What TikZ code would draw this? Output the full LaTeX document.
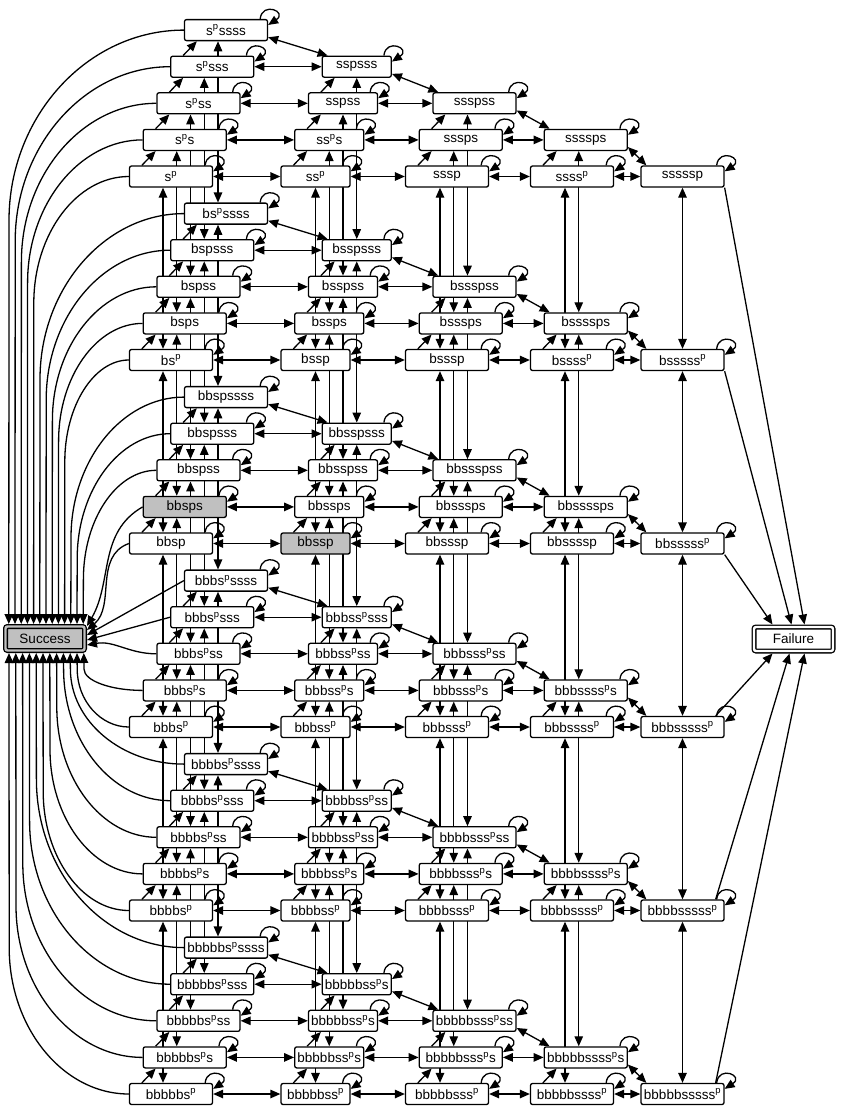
\documentclass[tikz,border=0pt]{standalone}
\usepackage{fontspec}
\setmainfont{Liberation Sans}
\usetikzlibrary{arrows.meta,backgrounds}
\definecolor{HitGray}{HTML}{C0C0C0}
\newcommand{\psup}{\textsuperscript{p}}

\begin{document}
\begin{tikzpicture}[
  x=1pt,y=1pt,
  state/.style={draw,rounded corners=2pt,fill=white,line width=1.3pt,minimum height=21pt,inner sep=0pt,font=\fontsize{13.5}{15}\selectfont},
  hit/.style={state,fill=HitGray},
  final/.style={state,double,double distance=2.4pt,outer sep=2.5pt,minimum width=79pt,minimum height=24pt},
  arrow/.style={-{Triangle[length=10pt,width=8.5pt]},line width=1.3pt},
  twoway/.style={{Triangle[length=10pt,width=8.5pt]}-{Triangle[length=10pt,width=8.5pt]},line width=1.3pt}
]
\useasboundingbox (0,0) rectangle (844,-1109);
% states: number of b / s before p / s after p
\foreach \nb/\ns/\nt/\sty/\lbl in {%
  0/1/4/state/{s\psup ssss},0/1/3/state/{s\psup sss},0/1/2/state/{s\psup ss},0/1/1/state/{s\psup s},0/1/0/state/{s\psup},%
  0/2/3/state/{sspsss},0/2/2/state/{sspss},0/2/1/state/{ss\psup s},0/2/0/state/{ss\psup},%
  0/3/2/state/{ssspss},0/3/1/state/{sssps},0/3/0/state/{sssp},%
  0/4/1/state/{ssssps},0/4/0/state/{ssss\psup},0/5/0/state/{sssssp},%
  1/1/4/state/{bs\psup ssss},1/1/3/state/{bspsss},1/1/2/state/{bspss},1/1/1/state/{bsps},1/1/0/state/{bs\psup},%
  1/2/3/state/{bsspsss},1/2/2/state/{bsspss},1/2/1/state/{bssps},1/2/0/state/{bssp},%
  1/3/2/state/{bssspss},1/3/1/state/{bsssps},1/3/0/state/{bsssp},%
  1/4/1/state/{bssssps},1/4/0/state/{bssss\psup},1/5/0/state/{bsssss\psup},%
  2/1/4/state/{bbspssss},2/1/3/state/{bbspsss},2/1/2/state/{bbspss},2/1/1/hit/{bbsps},2/1/0/state/{bbsp},%
  2/2/3/state/{bbsspsss},2/2/2/state/{bbsspss},2/2/1/state/{bbssps},2/2/0/hit/{bbssp},%
  2/3/2/state/{bbssspss},2/3/1/state/{bbsssps},2/3/0/state/{bbsssp},%
  2/4/1/state/{bbssssps},2/4/0/state/{bbssssp},2/5/0/state/{bbsssss\psup},%
  3/1/4/state/{bbbs\psup ssss},3/1/3/state/{bbbs\psup sss},3/1/2/state/{bbbs\psup ss},3/1/1/state/{bbbs\psup s},3/1/0/state/{bbbs\psup},%
  3/2/3/state/{bbbss\psup sss},3/2/2/state/{bbbss\psup ss},3/2/1/state/{bbbss\psup s},3/2/0/state/{bbbss\psup},%
  3/3/2/state/{bbbsss\psup ss},3/3/1/state/{bbbsss\psup s},3/3/0/state/{bbbsss\psup},%
  3/4/1/state/{bbbssss\psup s},3/4/0/state/{bbbssss\psup},3/5/0/state/{bbbsssss\psup},%
  4/1/4/state/{bbbbs\psup ssss},4/1/3/state/{bbbbs\psup sss},4/1/2/state/{bbbbs\psup ss},4/1/1/state/{bbbbs\psup s},4/1/0/state/{bbbbs\psup},%
  4/2/3/state/{bbbbss\psup ss},4/2/2/state/{bbbbss\psup ss},4/2/1/state/{bbbbss\psup s},4/2/0/state/{bbbbss\psup},%
  4/3/2/state/{bbbbsss\psup ss},4/3/1/state/{bbbbsss\psup s},4/3/0/state/{bbbbsss\psup},%
  4/4/1/state/{bbbbssss\psup s},4/4/0/state/{bbbbssss\psup},4/5/0/state/{bbbbsssss\psup},%
  5/1/4/state/{bbbbbs\psup ssss},5/1/3/state/{bbbbbs\psup sss},5/1/2/state/{bbbbbs\psup ss},5/1/1/state/{bbbbbs\psup s},5/1/0/state/{bbbbbs\psup},%
  5/2/3/state/{bbbbbss\psup s},5/2/2/state/{bbbbbss\psup s},5/2/1/state/{bbbbbss\psup s},5/2/0/state/{bbbbbss\psup},%
  5/3/2/state/{bbbbbsss\psup ss},5/3/1/state/{bbbbbsss\psup s},5/3/0/state/{bbbbbsss\psup},%
  5/4/1/state/{bbbbbssss\psup s},5/4/0/state/{bbbbbssss\psup},5/5/0/state/{bbbbbsssss\psup}%
}{
  \pgfmathsetmacro{\xx}{{171,315.5,447,572,682.5}[\ns-1]+13.75*\nt}
  \pgfmathsetmacro{\yy}{-176.5-183.5*\nb+36.6*\nt}
  \pgfmathsetmacro{\ww}{\ns==2 ? 69 : 83}
  \node[\sty,minimum width=\ww pt] (n\nb\ns\nt) at (\xx,\yy) {\lbl};
}
\node[final,fill=HitGray,double=HitGray] (success) at (45,-638.5) {Success};
\node[final,double=white] (failure) at (793.5,-639) {Failure};

\begin{scope}[on background layer]
\foreach \nb in {0,...,5}
  \foreach \ns in {1,...,5}{
    \pgfmathtruncatemacro{\toprow}{5-\ns}
    \foreach \nt in {0,...,\toprow}
      \draw[arrow] ([xshift=-8pt]n\nb\ns\nt.north east) .. controls +(2,18) and +(20,13) .. ([yshift=-6pt]n\nb\ns\nt.north east);
  }
\foreach \nb in {0,...,5}
  \foreach \ns in {1,...,4}{
    \pgfmathtruncatemacro{\nx}{\ns+1}
    \pgfmathtruncatemacro{\lastrow}{4-\ns}
    \pgfmathtruncatemacro{\toprow}{5-\ns}
    \foreach \nt in {0,...,\lastrow}{
      \pgfmathtruncatemacro{\nr}{\nt+1}
      \draw[twoway] (n\nb\ns\nt.east) -- (n\nb\nx\nt.west);
      \draw[arrow] ([xshift=13pt]n\nb\ns\nt.north west) -- ([xshift=13pt]n\nb\ns\nr.south west);
    }
    \draw[twoway] ([yshift=4pt]n\nb\ns\toprow.south east) -- ([xshift=6pt]n\nb\nx\lastrow.north west);
  }
\foreach \nb in {0,...,4}{
  \pgfmathtruncatemacro{\nd}{\nb+1}
  \foreach \ns/\off in {1/-8,2/0,3/-7,4/-7,5/0}{
    \pgfmathtruncatemacro{\toprow}{5-\ns}
    \foreach \nt in {0,...,\toprow}
      \draw[twoway] ([xshift=\off pt]n\nb\ns\nt.south) -- ([xshift=\off pt]n\nd\ns\nt.north);
  }
}
\foreach \nb in {0,...,5}
  \foreach \nt in {0,...,4}{
    \pgfmathtruncatemacro{\idx}{5*\nb+4-\nt}
    \pgfmathsetmacro{\xw}{129.5+13.75*\nt}
    \pgfmathsetmacro{\yn}{176.5+183.5*\nb-36.6*\nt}
    \ifnum\idx<13
      \pgfmathsetmacro{\xt}{9+6.2*\idx}
      \pgfmathsetmacro{\vy}{min(50+0.8*(\xw-\xt),624-\yn-16)}
      \pgfmathsetmacro{\sx}{\xt-3.2}
      \draw[arrow] (n\nb1\nt.west) .. controls ({\xw-0.55*(\xw-\xt)},-\yn) and (\xt,{-\yn-0.45*\vy}) .. (\xt,{-\yn-\vy}) -- ([xshift=\sx pt]success.north west);
    \fi
    \ifnum\idx>17
      \pgfmathsetmacro{\xt}{84-6.8*(\idx-18)}
      \pgfmathsetmacro{\vy}{min(50+0.8*(\xw-\xt),\yn-653-16)}
      \pgfmathsetmacro{\sx}{\xt-3.2}
      \draw[arrow] (n\nb1\nt.west) .. controls ({\xw-0.55*(\xw-\xt)},-\yn) and (\xt,{-\yn+0.45*\vy}) .. (\xt,{-\yn+\vy}) -- ([xshift=\sx pt]success.south west);
    \fi
  }
\draw[arrow] (n211.west) to[out=210,in=60] ([yshift=-2pt]success.north east);
\draw[arrow] (n210.west) to[out=200,in=40] ([yshift=-6pt]success.north east);
\draw[arrow] (n314.west) -- ([yshift=-11pt]success.north east);
\draw[arrow] (n313.west) -- ([yshift=-16pt]success.north east);
\draw[arrow] (n312.west) to[out=180,in=10] ([yshift=-21pt]success.north east);
\foreach \nb/\sx in {0/53,1/40,2/21}
  \draw[arrow] (n\nb50.south east) -- ([xshift=\sx pt]failure.north west);
\foreach \nb/\sx in {3/21,4/38,5/53}
  \draw[arrow] ([xshift=-9pt]n\nb50.north east) -- ([xshift=\sx pt]failure.south west);
\end{scope}
\end{tikzpicture}
\end{document}
